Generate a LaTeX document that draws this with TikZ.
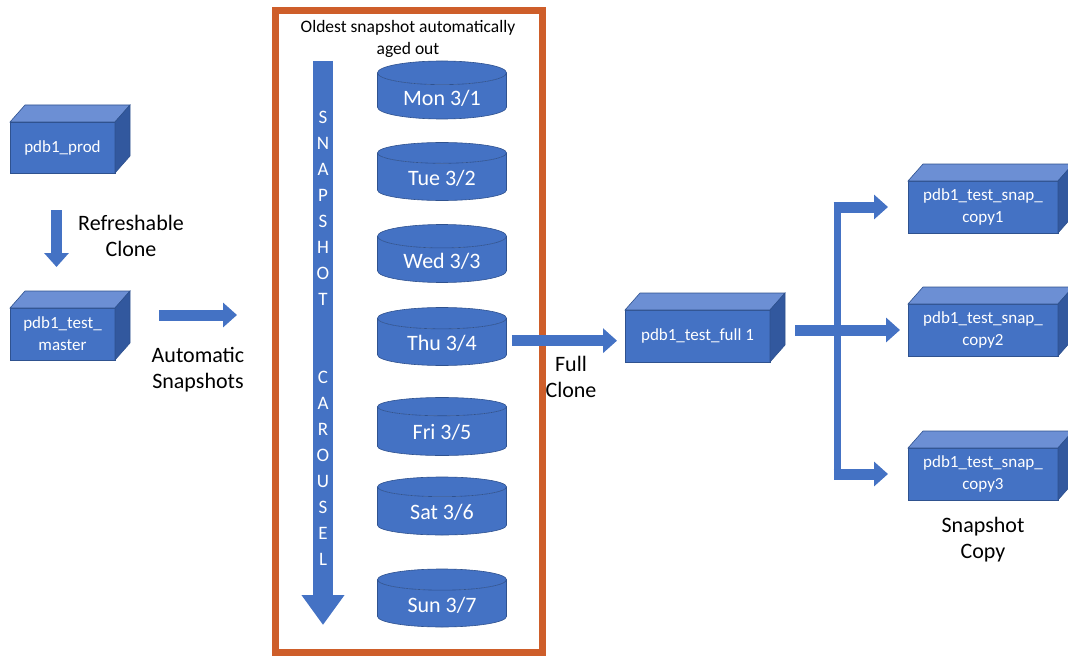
\documentclass[tikz,border=0pt]{standalone}
\usepackage{fontspec}
\setmainfont{Carlito}
\usetikzlibrary{arrows.meta,shapes.geometric,calc}

\definecolor{azul}{RGB}{68,114,196}
\definecolor{azulclaro}{RGB}{108,143,212}
\definecolor{azuloscuro}{RGB}{50,88,158}
\definecolor{borde}{RGB}{47,82,143}
\definecolor{naranja}{RGB}{206,94,42}

\tikzset{
  caja/.style={rectangle, fill=azul, draw=borde, line width=0.6pt, outer sep=0pt,
    inner sep=0pt, text=white, align=center, font=\fontsize{17}{22}\selectfont},
  cara sup/.style={fill=azulclaro, draw=borde, line width=0.6pt},
  cara lat/.style={fill=azuloscuro, draw=borde, line width=0.6pt},
  cilindro/.style={cylinder, shape border rotate=90, aspect=0.28, draw=borde,
    line width=0.6pt, cylinder uses custom fill, cylinder body fill=azul,
    cylinder end fill=azul, minimum width=129pt, minimum height=58pt,
    anchor=shape center, text=white, font=\fontsize{22}{26}\selectfont},
  flecha/.style={draw=azul, line width=11pt, -{Triangle[length=14pt,width=24pt]}},
  linea/.style={draw=azul, line width=7pt},
  etiqueta/.style={font=\fontsize{22}{26}\selectfont, align=center},
  letra/.style={text=white, font=\fontsize{19}{19}\selectfont, inner sep=0pt},
}

\begin{document}
\begin{tikzpicture}[x=1pt,y=-1pt]
    \useasboundingbox (0,0) rectangle (1068,658);

    % Cajas
    \node[caja, minimum width=105pt, minimum height=51pt] (prod) at (62.5,147.5) {pdb1\_prod};
    \node[caja, minimum width=105pt, minimum height=52pt] (master) at (62.5,334) {pdb1\_test\_\\master};
    \node[caja, minimum width=145pt, minimum height=52pt] (full) at (697.5,336) {pdb1\_test\_full 1};
    \node[caja, minimum width=150pt, minimum height=52pt] (copyA) at (983,207) {pdb1\_test\_snap\_\\copy1};
    \node[caja, minimum width=150pt, minimum height=52pt] (copyB) at (983,330) {pdb1\_test\_snap\_\\copy2};
    \node[caja, minimum width=150pt, minimum height=52pt] (copyC) at (983,474) {pdb1\_test\_snap\_\\copy3};

    % Caras de las cajas
    \foreach \n in {prod,master,full,copyA,copyB,copyC}{
        \draw[cara sup] (\n.north west) -- ++(15,-17) -- ($(\n.north east)+(15,-17)$) -- (\n.north east) -- cycle;
        \draw[cara lat] (\n.north east) -- ++(15,-17) -- ($(\n.south east)+(15,-17)$) -- (\n.south east) -- cycle;
    }

    % Marco del carrusel
    \node[draw=naranja, line width=7pt, minimum width=267pt, minimum height=642pt] (marco) at (409,331.5) {};
    \node[font=\fontsize{17.5}{22}\selectfont, align=center] (viejo) at (408,39) {Oldest snapshot automatically\\aged out};

    % Flecha del carrusel
    \coordinate (ci) at (323,61);
    \coordinate (cf) at (323,625);
    \draw[draw=azul, line width=20pt, -{Triangle[length=30pt,width=41pt]}] (ci) -- (cf);
    \foreach \l [count=\i] in {S,N,A,P,S,H,O,T,{},{},C,A,R,O,U,S,E,L}
        \node[letra] (l\i) at (323,91+26*\i) {\l};

    % Snapshots
    \node[cilindro] (mon) at (442,90) {Mon 3/1};
    \node[cilindro] (tue) at (442,171.5) {Tue 3/2};
    \node[cilindro] (wed) at (442,253.5) {Wed 3/3};
    \node[cilindro] (thu) at (442,336.5) {Thu 3/4};
    \node[cilindro] (fri) at (442,426.5) {Fri 3/5};
    \node[cilindro] (sat) at (442,506) {Sat 3/6};
    \node[cilindro] (sun) at (442,598) {Sun 3/7};

    % Flechas
    \draw[flecha] ([xshift=-6pt,yshift=-37pt]prod.south) -- ([xshift=-6pt,yshift=41pt]master.north);
    \draw[flecha] ([xshift=44pt,yshift=19pt]master.east) -- ([xshift=-35pt,yshift=19pt]master.east -| marco.west);
    \draw[flecha] ([xshift=5pt,yshift=3pt]thu.east) -- ([xshift=-8pt,yshift=3pt]thu.east -| full.west);
    \coordinate (bus) at (837,0);
    \draw[linea] (bus |- copyA.west) -- (bus |- copyC.west);
    \draw[flecha] ([xshift=25pt]full.east |- copyB.west) -- ([xshift=-8pt]copyB.west);
    \draw[flecha] ([xshift=-3.5pt]bus |- copyA.west) -- ([xshift=-20pt]copyA.west);
    \draw[flecha] ([xshift=-3.5pt]bus |- copyC.west) -- ([xshift=-20pt]copyC.west);

    % Etiquetas
    \node[etiqueta] (refresh) at (131,236) {Refreshable\\Clone};
    \node[etiqueta] (auto) at (198,370) {Automatic\\Snapshots};
    \node[etiqueta] (fullclone) at (571,377) {Full\\Clone};
    \node[etiqueta] (snapcopy) at (983,540) {Snapshot\\Copy};
\end{tikzpicture}
\end{document}
